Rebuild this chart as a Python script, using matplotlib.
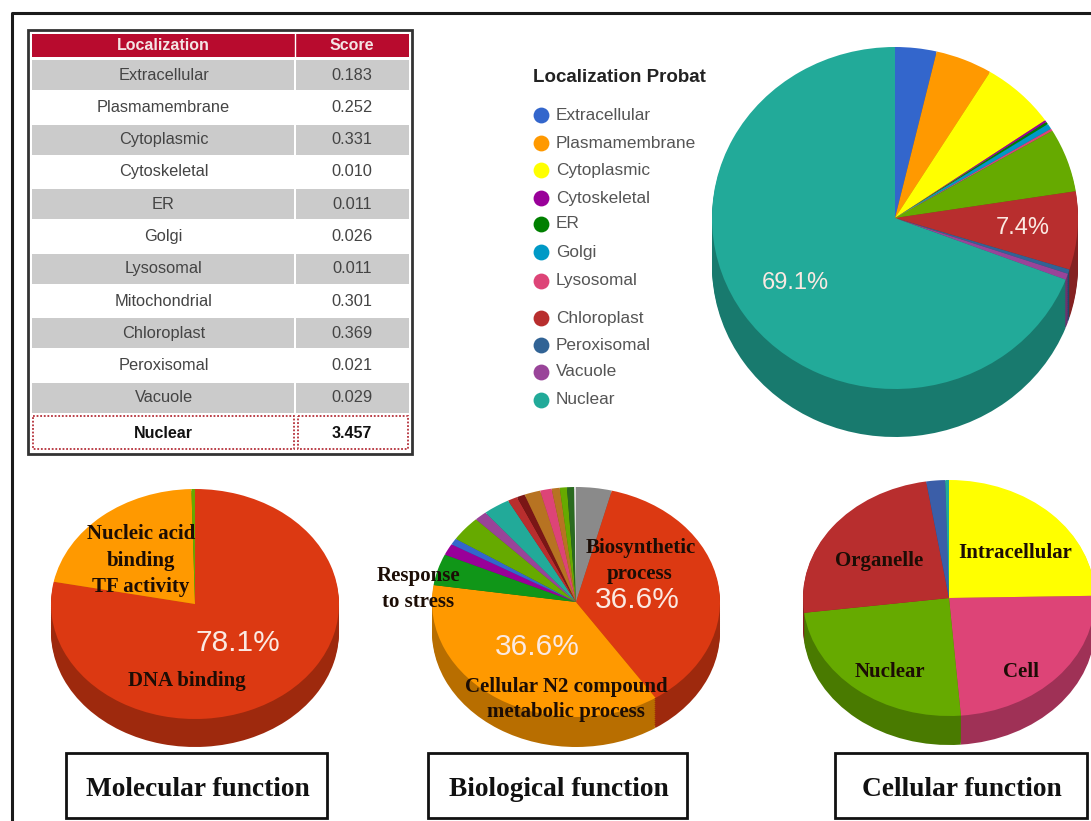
import numpy as np
import matplotlib
matplotlib.use("Agg")
import matplotlib.pyplot as plt
from matplotlib.colors import to_rgb
from matplotlib.patches import Rectangle

W, H = 1091, 821

# localization table, the big pie is drawn from the same scores
loc_names = ["Extracellular", "Plasmamembrane", "Cytoplasmic", "Cytoskeletal", "ER", "Golgi",
             "Lysosomal", "Mitochondrial", "Chloroplast", "Peroxisomal", "Vacuole", "Nuclear"]
loc_scores = [0.183, 0.252, 0.331, 0.010, 0.011, 0.026, 0.011, 0.301, 0.369, 0.021, 0.029, 3.457]
loc_colors = ["#3366cc", "#ff9900", "#ffff00", "#990099", "#008000", "#0099c6",
              "#dd4477", "#66aa00", "#b82e2e", "#316395", "#994499", "#22aa99"]

mol_values = [78.1, 21.5, 0.4]
mol_colors = ["#dc3912", "#ff9900", "#66aa00"]

bio_values = [4.0, 36.6, 36.6, 4.4, 1.6, 0.9, 3.5, 1.4, 3.0, 1.1, 0.9, 1.8, 1.3, 0.9, 0.8, 0.8, 0.2]
bio_colors = ["#8a8a8a", "#dc3912", "#ff9900", "#109618", "#990099", "#3366cc", "#66aa00", "#994499",
              "#22aa99", "#b82e2e", "#7a1616", "#b77322", "#dd4477", "#b77322", "#66aa00", "#2a6a20", "#dddddd"]

cel_values = [24.7, 24.0, 24.3, 24.5, 2.1, 0.4]
cel_colors = ["#ffff00", "#dd4477", "#66aa00", "#b82e2e", "#3b5ea8", "#22aa99"]


def darken(c, f=0.72):
    return tuple(v * f for v in to_rgb(c))


def pie3d(cx, cy, rx, ry, depth, values, colors):
    # flat pie stretched to an ellipse, stacked copies give the side wall
    pad = 4
    ax = fig.add_axes([(cx - rx - pad) / W, 1 - (cy + ry + depth + pad) / H,
                       (2 * rx + 2 * pad) / W, (2 * ry + depth + 2 * pad) / H])
    dark = [darken(c) for c in colors]
    for d in range(depth, 0, -2):
        ax.pie(values, colors=dark, startangle=90, counterclock=False, radius=1, center=(0, -d / ry))
    ax.pie(values, colors=colors, startangle=90, counterclock=False, radius=1, center=(0, 0))
    ax.set_aspect("auto")
    ax.set_xlim(-1 - pad / rx, 1 + pad / rx)
    ax.set_ylim(-1 - (depth + pad) / ry, 1 + pad / ry)
    ax.set_zorder(1)
    ax.patch.set_alpha(0)


fig = plt.figure(figsize=(W / 100, H / 100), dpi=100, facecolor="white")
bg = fig.add_axes([0, 0, 1, 1])
bg.set_xlim(0, W)
bg.set_ylim(H, 0)
bg.axis("off")

fg = fig.add_axes([0, 0, 1, 1], zorder=5)
fg.set_xlim(0, W)
fg.set_ylim(H, 0)
fg.axis("off")
fg.patch.set_alpha(0)

# outer frame
bg.plot([12, 12, W], [H, 13, 13], color="#1a1a1a", lw=2.2)

# table
SANS = "Liberation Sans"
SERIF = "Liberation Serif"
tl, tr, tm = 32, 409, 295
bg.add_patch(Rectangle((28, 30), 384, 424, fc="white", ec="#333333", lw=2))
bg.add_patch(Rectangle((tl, 34), tr - tl, 23, fc="#b80b2e", ec="none"))
bg.plot([tm, tm], [34, 57], color="white", lw=1)
bg.text((tl + tm) / 2, 46, "Localization", color="#f4e4e4", fontsize=11.5, fontweight="bold",
        family=SANS, ha="center", va="center")
bg.text((tm + tr) / 2, 46, "Score", color="#f4e4e4", fontsize=11.5, fontweight="bold",
        family=SANS, ha="center", va="center")
for i, (name, score) in enumerate(zip(loc_names, loc_scores)):
    if name == "Nuclear":
        continue
    y = 75 + i * 32.3
    if i % 2 == 0:
        bg.add_patch(Rectangle((tl, y - 15), tm - tl - 1, 30, fc="#cbcbcb", ec="none"))
        bg.add_patch(Rectangle((tm + 1, y - 15), tr - tm - 1, 30, fc="#cbcbcb", ec="none"))
    bg.text((tl + tm) / 2, y, name, color="#444444", fontsize=11.8, family=SANS, ha="center", va="center")
    bg.text((tm + tr) / 2, y, "%.3f" % score, color="#444444", fontsize=11.8, family=SANS, ha="center", va="center")
bg.add_patch(Rectangle((33, 416), 261, 33, fc="white", ec="#b5303a", lw=1.3, ls=(0, (1, 1))))
bg.add_patch(Rectangle((298, 416), 110, 33, fc="white", ec="#b5303a", lw=1.3, ls=(0, (1, 1))))
bg.text((tl + tm) / 2, 433, loc_names[-1], color="#111111", fontsize=11.5, fontweight="bold",
        family=SANS, ha="center", va="center")
bg.text((tm + tr) / 2, 433, "%.3f" % loc_scores[-1], color="#111111", fontsize=11.5, fontweight="bold",
        family=SANS, ha="center", va="center")

# legend, google chart leaves Mitochondrial out
legend_y = [115, 143, 170, 198, 224, 252, 281, None, 318, 345, 372, 400]
bg.text(533, 77, "Localization Probat", fontsize=13.5, fontweight="bold", family=SANS,
        color="#222222", va="center")
for name, col, y in zip(loc_names, loc_colors, legend_y):
    if y is None:
        continue
    bg.scatter([541], [y], s=130, color=col, linewidths=0)
    bg.text(556, y, name, fontsize=12.4, family=SANS, color="#555555", va="center")

# pies
pie3d(895, 218, 183, 171, 48, loc_scores, loc_colors)
pie3d(195, 604, 144, 115, 28, mol_values, mol_colors)
pie3d(576, 602, 144, 115, 30, bio_values, bio_colors)
pie3d(949, 598, 146, 118, 29, cel_values, cel_colors)

# white percentages
for x, y, s, size in [(1023, 228, "7.4%", 17), (795, 283, "69.1%", 17), (238, 643, "78.1%", 21.5),
                      (637, 600, "36.6%", 21.5), (537, 647, "36.6%", 21.5)]:
    fg.text(x, y, s, color="#fbe9e2", fontsize=size, family=SANS, ha="center", va="center")

# black labels inside the pies
for x, y, s in [(141, 534, "Nucleic acid"), (141, 561, "binding"), (141, 587, "TF activity"),
                (187, 681, "DNA binding"),
                (641, 548, "Biosynthetic"), (640, 574, "process"),
                (418, 576, "Response"), (418, 602, "to stress"),
                (566, 687, "Cellular N2 compound"), (566, 712, "metabolic process"),
                (879, 561, "Organelle"), (1015, 553, "Intracellular"),
                (890, 672, "Nuclear"), (1021, 672, "Cell")]:
    fg.text(x, y, s, color="#1c0d05", fontsize=15, fontweight="bold", family=SERIF, ha="center", va="center")

# function boxes
for x0, x1, s in [(66, 327, "Molecular function"), (428, 687, "Biological function"),
                  (835, 1087, "Cellular function")]:
    fg.add_patch(Rectangle((x0, 753), x1 - x0, 65, fc="white", ec="#111111", lw=2))
    fg.text((x0 + x1) / 2 + 1, 790, s, color="#111111", fontsize=19.7, fontweight="bold", family=SERIF,
            ha="center", va="center")

fig.savefig("out.png", dpi=100, facecolor="white")
